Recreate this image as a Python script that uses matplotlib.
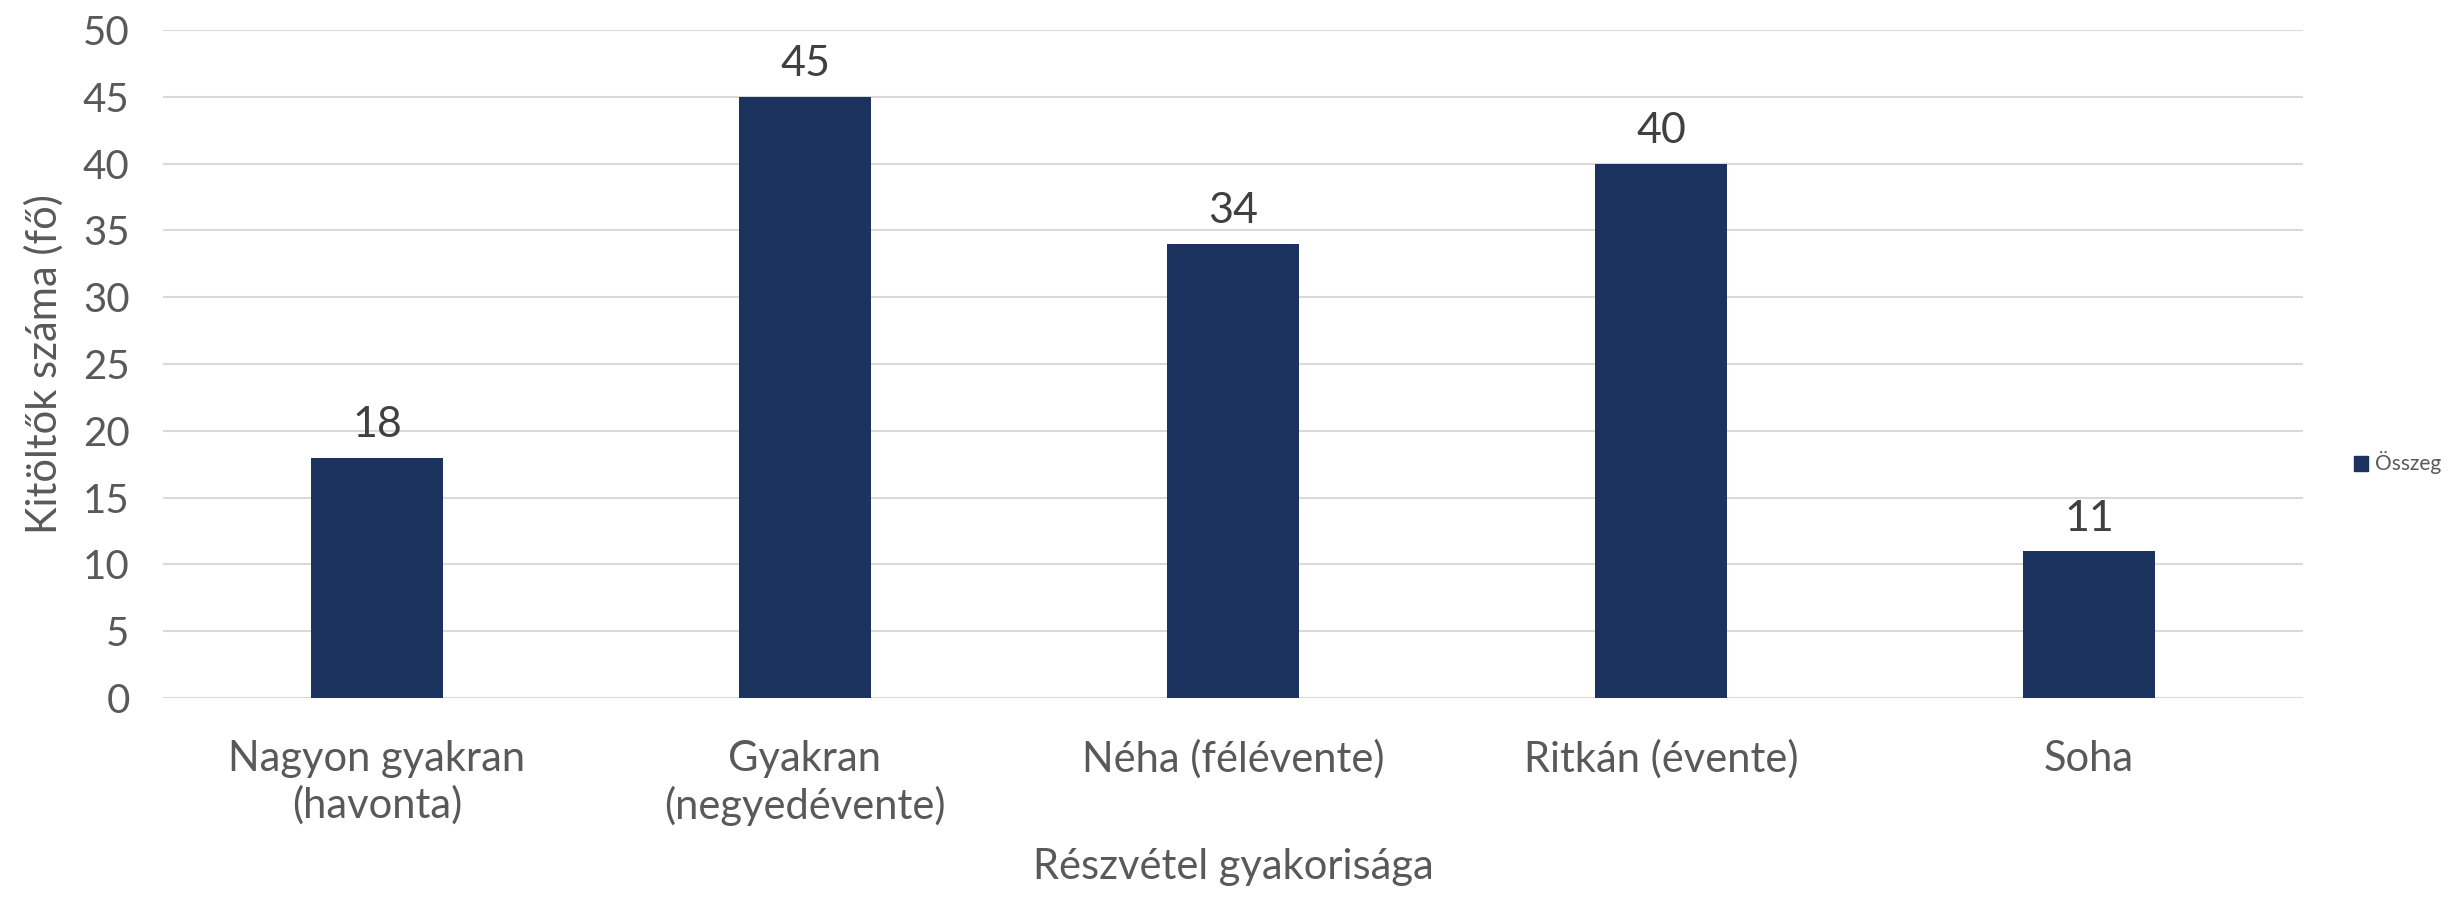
import matplotlib
matplotlib.use("Agg")
import matplotlib.pyplot as plt
from matplotlib.patches import Patch

categories = ["Nagyon gyakran\n(havonta)", "Gyakran\n(negyedévente)", "Néha (félévente)", "Ritkán (évente)", "Soha"]
values = [18, 45, 34, 40, 11]
yticks = [0, 5, 10, 15, 20, 25, 30, 35, 40, 45, 50]
series_name = "Összeg"
xlabel = "Részvétel gyakorisága"
ylabel = "Kitöltők száma (fő)"

plt.rcParams['font.family'] = ['Lato', 'DejaVu Sans']
txt = "#595959"
bar_color = "#1c3360"

fig = plt.figure(figsize=(24.56, 9.02), dpi=100)
ax = fig.add_axes([163/2456, 1-698/902, (2303-163)/2456, (698-30)/902])

x = list(range(len(categories)))
bars = ax.bar(x, values, width=0.31, color=bar_color, zorder=3)
for xi, v in zip(x, values):
    ax.text(xi, v + 1.0, str(v), ha='center', va='bottom', fontsize=31, color="#404040")

ax.set_xlim(-0.5, len(categories) - 0.5)
ax.set_ylim(0, 50)
ax.set_yticks(yticks)
ax.set_yticklabels([str(t) for t in yticks], fontsize=29, color=txt)
ax.set_xticks(x)
ax.set_xticklabels(categories, fontsize=30, color=txt, linespacing=1.25)
ax.yaxis.grid(True, color="#d9d9d9", linewidth=1.5, zorder=0)
ax.tick_params(axis='both', length=0)
ax.tick_params(axis='x', pad=30)
ax.tick_params(axis='y', pad=24)
for s in ax.spines.values():
    s.set_visible(False)
ax.set_xlabel(xlabel, fontsize=30, color=txt, labelpad=16)
ax.set_ylabel(ylabel, fontsize=30, color=txt, labelpad=14)

leg = fig.legend(handles=[Patch(color=bar_color, label=series_name)],
                 loc='center left', bbox_to_anchor=(2335/2456, 1-463/902),
                 frameon=False, fontsize=15, handlelength=0.7, handleheight=0.7,
                 handletextpad=0.3, labelcolor=txt)

fig.savefig("out.png", dpi=100)
